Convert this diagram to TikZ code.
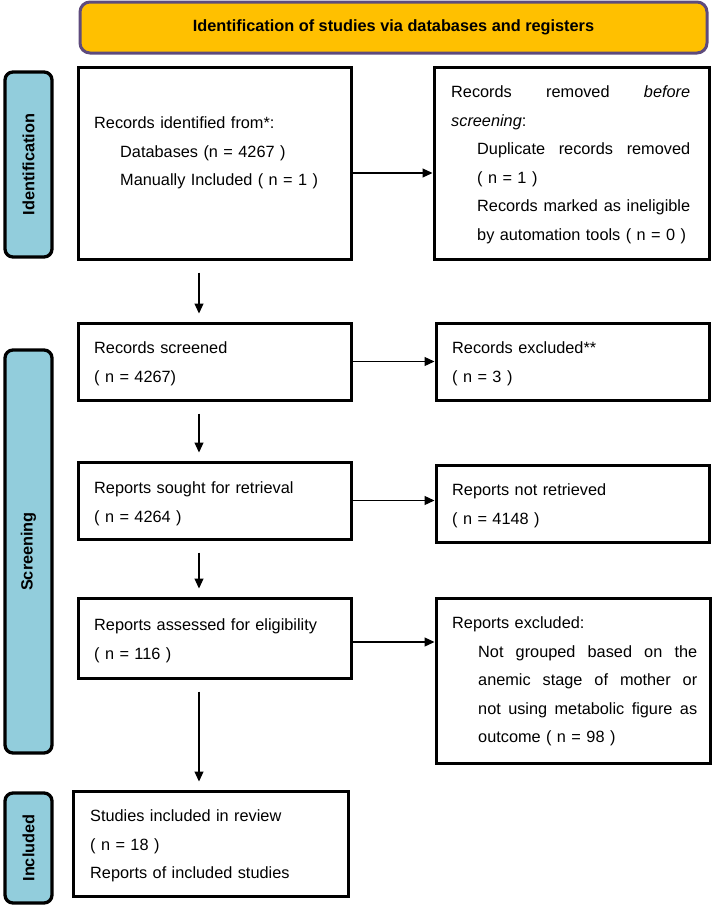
\documentclass[tikz,border=0pt]{standalone}
\usepackage{fontspec}
\setmainfont{Liberation Sans}
\usetikzlibrary{arrows.meta}
\definecolor{headfill}{RGB}{255,192,0}
\definecolor{headline}{RGB}{94,75,125}
\definecolor{phasefill}{RGB}{146,205,220}
\def\ind{\hspace*{26pt}}

\begin{document}
\begin{tikzpicture}[x=1pt, y=-1pt,
	box/.style={draw, line width=3pt, minimum width=#1, inner sep=0pt},
	phase/.style={draw, line width=3.3pt, fill=phasefill, rounded corners=8pt, rotate=90,
		minimum width=#1, minimum height=47pt, inner sep=0pt, font=\fontsize{16.3}{19}\selectfont\bfseries},
	txt/.style={anchor=base west, inner sep=0pt, text width=#1, align=left,
		font=\fontsize{16.3}{28.5}\selectfont},
	arr/.style={line width=1.2pt, -{Triangle[length=10pt, width=9pt]}},
	down/.style={arr, shorten <=12pt, shorten >=8pt}]
	\useasboundingbox (0,0) rectangle (712,905);

	\node[draw=headline, line width=3pt, fill=headfill, rounded corners=10pt,
		minimum width=627pt, minimum height=51pt, font=\fontsize{16.3}{19}\selectfont\bfseries]
		(head) at (393.5,27.5) {Identification of studies via databases and registers};

	\node[phase=185pt] (idphase) at (28.5,164.5) {Identification};
	\node[phase=403pt] (scphase) at (28.5,551.5) {Screening};
	\node[phase=110pt] (inphase) at (28.5,848) {Included};

	\node[box=273pt, minimum height=192pt] (ident) at (214.5,163) {};
	\node[box=275pt, minimum height=192pt] (removed) at (571.5,163) {};
	\node[box=273pt, minimum height=77pt] (screened) at (214.5,361.5) {};
	\node[box=273pt, minimum height=77pt] (excluded) at (572.5,361.5) {};
	\node[box=273pt, minimum height=77pt] (sought) at (214.5,500.5) {};
	\node[box=273pt, minimum height=77pt] (notretr) at (572.5,503.5) {};
	\node[box=273pt, minimum height=80pt] (assessed) at (214.5,638) {};
	\node[box=274pt, minimum height=165pt] (repexcl) at (573,680.5) {};
	\node[box=275pt, minimum height=105pt] (included) at (210.5,843.5) {};

	\node[txt=240pt] (identtxt) at (94,128.5) {Records identified from*:\\
		\ind Databases (n = 4267 )\\
		\ind Manually Included ( n = 1 )};
	\node[txt=239pt] (removedtxt) at (451,97.5) {Records\hfill removed\hfill \textit{before}\\
		\textit{screening}:\\
		\ind Duplicate\hfill records\hfill removed\\
		\ind ( n = 1 )\\
		\ind Records\hfill marked\hfill as\hfill ineligible\\
		\ind by automation tools ( n = 0 )};
	\node[txt=240pt] (screenedtxt) at (94,353.5) {Records screened\\( n = 4267)};
	\node[txt=240pt] (excludedtxt) at (452,353.5) {Records excluded**\\( n = 3 )};
	\node[txt=240pt] (soughttxt) at (94,493.5) {Reports sought for retrieval\\( n = 4264 )};
	\node[txt=240pt] (notretrtxt) at (452,495.5) {Reports not retrieved\\( n = 4148 )};
	\node[txt=240pt] (assessedtxt) at (94,630.5) {Reports assessed for eligibility\\( n = 116 )};
	\node[txt=245pt] (repexcltxt) at (452,628.5) {Reports excluded:\\
		\ind Not\hfill grouped\hfill based\hfill on\hfill the\\
		\ind anemic\hfill stage\hfill of\hfill mother\hfill or\\
		\ind not\hfill using\hfill metabolic\hfill figure\hfill as\\
		\ind outcome ( n = 98 )};
	\node[txt=245pt] (includedtxt) at (90,821.5) {Studies included in review\\
		( n = 18 )\\
		Reports of included studies};

	\coordinate (spine) at (199,0);
	\draw[down] (ident.south -| spine) -- (screened.north -| spine);
	\draw[down] (screened.south -| spine) -- (sought.north -| spine);
	\draw[down] (sought.south -| spine) -- (assessed.north -| spine);
	\draw[down] (assessed.south -| spine) -- (included.north -| spine);

	\draw[arr] ([yshift=-10pt]ident.east) -- ([yshift=-10pt]ident.east -| removed.west);
	\draw[arr] (screened.east) -- (excluded.west);
	\draw[arr] (sought.east) -- (sought.east -| notretr.west);
	\draw[arr] ([yshift=-4pt]assessed.east) -- ([yshift=-4pt]assessed.east -| repexcl.west);
\end{tikzpicture}
\end{document}
